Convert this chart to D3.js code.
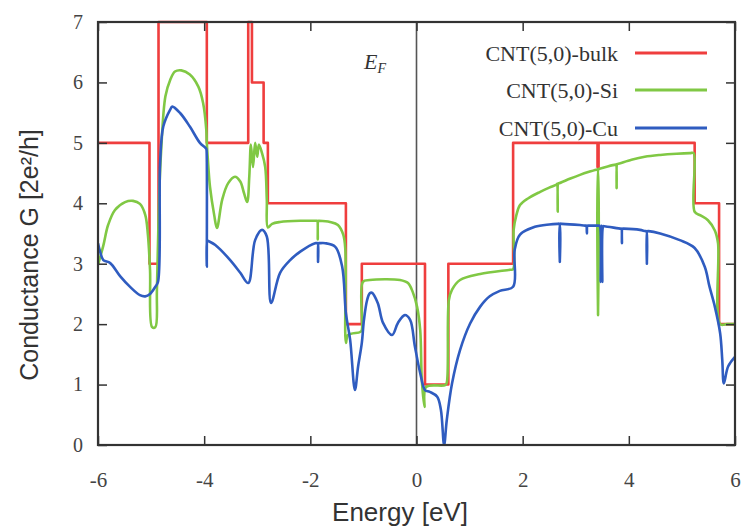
<!DOCTYPE html>
<html>
<head>
<meta charset="utf-8">
<script src="https://cdn.jsdelivr.net/npm/d3@7"></script>
<style>
  html, body { margin: 0; padding: 0; background: #fff; }
  svg { display: block; }
</style>
</head>
<body>
<svg id="chart" width="741" height="528"></svg>
<script>
// ---------- data ----------
const xTicks = [-6, -4, -2, 0, 2, 4, 6];
const yTicks = [0, 1, 2, 3, 4, 5, 6, 7];
const seriesNames = ["CNT(5,0)-bulk", "CNT(5,0)-Si", "CNT(5,0)-Cu"];

// [energy (eV), conductance G (2e^2/h)]
const bulk = [
  [-6,5],[-5.03,5],[-5.03,3],[-4.86,3],[-4.86,7],[-3.95,7],[-3.95,5],[-3.17,5],[-3.17,7],
  [-3.10,7],[-3.10,6],[-2.88,6],[-2.88,5],[-2.80,5],[-2.80,4],[-1.33,4],[-1.33,2],[-1.03,2],
  [-1.03,3],[0.16,3],[0.16,1],[0.60,1],[0.60,3],[1.82,3],[1.82,5],[3.41,5],[3.41,4.6],
  [3.43,4.6],[3.43,5],[5.24,5],[5.24,4],[5.70,4],[5.70,2],[6,2]
];

const si = [
  [-6,2.98],[-5.9,3.3],[-5.81,3.64],[-5.68,3.89],[-5.49,4.02],[-5.34,4.04],[-5.21,3.99],
  [-5.11,3.81],[-5.06,3.48],[-5.02,2.9],[-4.98,1.95],[-4.92,1.95],[-4.89,2.57],[-4.85,4.06],
  [-4.81,4.88],[-4.73,5.77],[-4.64,6.04],[-4.55,6.18],[-4.43,6.2],[-4.27,6.13],[-4.11,5.93],
  [-4.02,5.66],[-3.96,5.22],[-3.95,5.0],[-3.93,4.72],[-3.89,4.27],[-3.81,3.8],[-3.76,3.59],
  [-3.66,4.06],[-3.55,4.33],[-3.42,4.44],[-3.32,4.36],[-3.25,4.17],[-3.19,4.02],[-3.15,4.44],
  [-3.12,4.97],[-3.08,4.6],[-3.04,5.0],[-3.0,4.77],[-2.97,4.97],[-2.91,4.83],[-2.85,4.6],
  [-2.82,4.06],[-2.80,3.6],[-2.72,3.66],[-2.57,3.69],[-2.19,3.71],[-1.88,3.71],[-1.87,3.71],
  [-1.86,3.4],[-1.85,3.71],[-1.84,3.71],[-1.63,3.69],[-1.48,3.64],[-1.38,3.48],[-1.34,3.23],
  [-1.33,1.69],[-1.29,1.82],[-1.06,1.87],[-1.03,1.9],[-1.01,2.7],[-0.88,2.73],[-0.31,2.73],
  [-0.16,2.68],[-0.07,2.53],[0.01,2.29],[0.07,1.9],[0.10,1.08],[0.15,0.63],[0.18,0.96],
  [0.54,0.99],[0.57,1.03],[0.61,2.4],[0.67,2.57],[0.82,2.73],[1.20,2.83],[1.76,2.9],
  [1.82,2.91],[1.83,3.56],[1.88,3.8],[1.95,3.97],[2.1,4.08],[2.33,4.19],[2.5,4.26],
  [2.64,4.31],[2.65,4.32],[2.66,3.86],[2.67,4.33],[2.68,4.33],[2.9,4.41],[3.08,4.47],
  [3.25,4.52],[3.40,4.56],[3.41,4.56],[3.42,2.15],[3.43,4.57],[3.44,4.57],[3.6,4.61],
  [3.75,4.64],[3.76,4.64],[3.77,4.25],[3.78,4.65],[3.79,4.65],[4.05,4.72],[4.30,4.77],
  [4.59,4.8],[4.9,4.82],[5.15,4.83],[5.22,4.83],[5.24,3.86],[5.35,3.8],[5.49,3.72],
  [5.62,3.55],[5.68,3.34],[5.72,2.0],[5.85,2.0],[6,2.0]
];

const cu = [
  [-6,3.34],[-5.96,3.2],[-5.9,3.06],[-5.77,3.01],[-5.58,2.79],[-5.40,2.62],[-5.21,2.48],
  [-5.11,2.46],[-5.02,2.5],[-4.92,2.62],[-4.87,2.7],[-4.83,4.67],[-4.77,5.27],[-4.64,5.55],
  [-4.60,5.6],[-4.45,5.49],[-4.27,5.27],[-4.08,5.0],[-3.98,4.92],[-3.96,4.9],[-3.955,4.88],
  [-3.95,2.95],[-3.945,3.39],[-3.93,3.38],[-3.79,3.31],[-3.51,3.06],[-3.32,2.85],[-3.17,2.68],
  [-3.04,3.39],[-2.91,3.56],[-2.82,3.45],[-2.74,2.35],[-2.57,2.85],[-2.38,3.06],[-2.19,3.2],
  [-1.91,3.34],[-1.88,3.34],[-1.86,3.34],[-1.855,3.03],[-1.845,3.34],[-1.83,3.34],[-1.72,3.34],
  [-1.53,3.28],[-1.40,2.95],[-1.33,2.18],[-1.25,1.74],[-1.16,0.91],[-1.10,1.3],[-1.03,1.69],
  [-0.99,2.07],[-0.93,2.4],[-0.88,2.51],[-0.84,2.52],[-0.73,2.35],[-0.63,2.02],[-0.46,1.82],
  [-0.35,2.02],[-0.22,2.15],[-0.12,2.07],[-0.03,1.63],[0.07,1.19],[0.16,0.91],[0.25,0.88],
  [0.39,0.8],[0.46,0.58],[0.52,0.0],[0.57,0.41],[0.67,1.02],[0.82,1.57],[1.01,2.01],
  [1.20,2.29],[1.38,2.46],[1.57,2.55],[1.82,2.62],[1.85,3.23],[1.95,3.48],[2.23,3.61],
  [2.5,3.65],[2.66,3.66],[2.69,3.66],[2.70,3.03],[2.71,3.66],[2.74,3.66],[3.08,3.64],
  [3.19,3.63],[3.20,3.63],[3.21,3.5],[3.22,3.63],[3.24,3.63],[3.43,3.63],[3.45,3.63],
  [3.47,2.7],[3.49,3.63],[3.50,2.7],[3.52,3.62],[3.54,3.62],[3.85,3.58],[3.86,3.58],
  [3.87,3.34],[3.88,3.58],[3.90,3.58],[4.21,3.56],[4.31,3.54],[4.33,3.54],[4.34,3.0],
  [4.35,3.54],[4.37,3.54],[4.59,3.5],[4.96,3.39],[5.24,3.26],[5.43,2.95],[5.52,2.62],
  [5.62,2.29],[5.72,1.85],[5.76,1.41],[5.79,1.02],[5.87,1.3],[6,1.46]
];

const seriesData = [bulk, si, cu];
const seriesColors = ["#ef3e3e", "#80c844", "#2f5cc0"];

// ---------- layout ----------
const svg = d3.select("#chart");
const margin = { left: 98, right: 6, top: 22, bottom: 83 };
const W = 741, H = 528;
const x = d3.scaleLinear().domain([-6, 6]).range([margin.left, W - margin.right]);
const y = d3.scaleLinear().domain([0, 7]).range([H - margin.bottom, margin.top]);

svg.append("defs").append("clipPath").attr("id", "clip")
  .append("rect")
  .attr("x", x(-6)).attr("y", y(7) - 2)
  .attr("width", x(6) - x(-6)).attr("height", y(0) - y(7) + 2);

// Fermi level line
svg.append("line")
  .attr("x1", x(0)).attr("x2", x(0))
  .attr("y1", y(0)).attr("y2", y(7))
  .attr("stroke", "#555").attr("stroke-width", 1.6);

// curves
const stepLine = d3.line().x(d => x(d[0])).y(d => y(d[1]));
const smoothLine = d3.line().x(d => x(d[0])).y(d => y(d[1])).curve(d3.curveCatmullRom.alpha(0.5));
const plot = svg.append("g").attr("clip-path", "url(#clip)");
seriesData.forEach((data, i) => {
  plot.append("path")
    .datum(data)
    .attr("d", i === 0 ? stepLine : smoothLine)
    .attr("fill", "none")
    .attr("stroke", seriesColors[i])
    .attr("stroke-width", 2.6)
    .attr("stroke-linejoin", "round");
});

// axes (ticks inward, mirrored)
const tickFont = "'Liberation Serif', 'DejaVu Serif', serif";
const axisColor = "#333";
const fmt = d => String(d);
const xAxisB = d3.axisBottom(x).tickValues(xTicks).tickSize(-9).tickPadding(27).tickFormat(fmt);
const xAxisT = d3.axisTop(x).tickValues(xTicks).tickSize(-9).tickFormat("");
const yAxisL = d3.axisLeft(y).tickValues(yTicks).tickSize(-9).tickPadding(15).tickFormat(fmt);
const yAxisR = d3.axisRight(y).tickValues(yTicks).tickSize(-9).tickFormat("");

function styleAxis(g, size) {
  g.select(".domain").remove();
  g.selectAll(".tick line").attr("stroke", axisColor).attr("stroke-width", 1.5);
  g.selectAll(".tick text").attr("fill", "#444")
    .style("font-family", tickFont).style("font-size", size + "px");
}
svg.append("g").attr("transform", `translate(0,${y(0)})`).call(xAxisB).call(styleAxis, 21);
svg.append("g").attr("transform", `translate(0,${y(7)})`).call(xAxisT).call(styleAxis, 21);
svg.append("g").attr("transform", `translate(${x(-6)},0)`).call(yAxisL).call(styleAxis, 20);
svg.append("g").attr("transform", `translate(${x(6)},0)`).call(yAxisR).call(styleAxis, 20);

// frame
svg.append("rect")
  .attr("x", x(-6)).attr("y", y(7))
  .attr("width", x(6) - x(-6)).attr("height", y(0) - y(7))
  .attr("fill", "none").attr("stroke", axisColor).attr("stroke-width", 2.2);

// axis titles
const sansFont = "'Liberation Sans', Arial, sans-serif";
svg.append("text")
  .attr("x", 400).attr("y", 521)
  .attr("text-anchor", "middle")
  .style("font-family", sansFont).style("font-size", "26px").attr("fill", "#333")
  .text("Energy [eV]");

svg.append("text")
  .attr("transform", `translate(38,255) rotate(-90)`)
  .attr("text-anchor", "middle")
  .style("font-family", sansFont).style("font-size", "25px").attr("fill", "#333")
  .text("Conductance G [2e²/h]");

// E_F label
const ef = svg.append("text")
  .attr("x", 364).attr("y", 69)
  .style("font-family", tickFont).style("font-size", "22px").style("font-style", "italic")
  .attr("fill", "#333");
ef.append("tspan").text("E");
ef.append("tspan").attr("dy", 4).style("font-size", "14px").text("F");

// legend
const legendY = [53, 90, 128];
seriesNames.forEach((name, i) => {
  svg.append("text")
    .attr("x", 618).attr("y", legendY[i]).attr("dy", "0.35em")
    .attr("text-anchor", "end")
    .style("font-family", tickFont).style("font-size", "22px").attr("fill", "#333")
    .text(name);
  svg.append("line")
    .attr("x1", 635).attr("x2", 707)
    .attr("y1", legendY[i]).attr("y2", legendY[i])
    .attr("stroke", seriesColors[i]).attr("stroke-width", 2.8);
});
</script>
</body>
</html>
